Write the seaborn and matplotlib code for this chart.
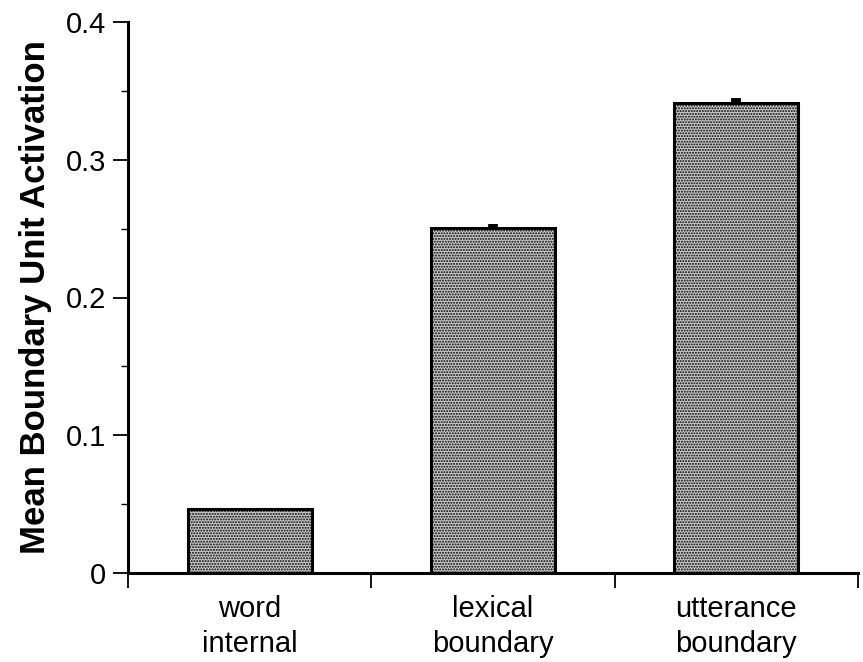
import matplotlib
matplotlib.use("Agg")
import matplotlib.pyplot as plt
import seaborn as sns
import pandas as pd
import numpy as np

categories = ["word\ninternal", "lexical\nboundary", "utterance\nboundary"]
values = [0.0465, 0.2505, 0.341]
errors = [0.0005, 0.003, 0.004]

sns.set_theme(style="ticks")
plt.rcParams['font.family'] = ['Liberation Sans', 'DejaVu Sans']
plt.rcParams['hatch.color'] = '#4a4a4a'
plt.rcParams['hatch.linewidth'] = 1.0
plt.rcParams['text.color'] = 'black'
plt.rcParams['xtick.color'] = 'black'
plt.rcParams['ytick.color'] = 'black'
plt.rcParams['axes.labelcolor'] = 'black'

df = pd.DataFrame({"cat": categories, "val": values})

fig = plt.figure(figsize=(8.63, 6.62), dpi=100)
ax = fig.add_axes([128/863, 1-573/662, (858-128)/863, (573-22)/662])

sns.barplot(data=df, x="cat", y="val", order=categories, color="#c8c8c8",
            width=0.51, edgecolor="black", linewidth=2.2, errorbar=None,
            ax=ax, zorder=2)
for p in ax.patches:
    p.set_hatch("......")
    p.set_facecolor("#cccccc")

xs = np.arange(len(categories))
ax.errorbar(xs, values, yerr=[np.zeros(len(errors)), errors], fmt="none",
            ecolor="black", elinewidth=7, capsize=0, zorder=1)

ax.set_xlim(-0.5, 2.5)
ax.set_ylim(0, 0.4)
ax.set_yticks([0, 0.1, 0.2, 0.3, 0.4])
ax.set_yticklabels(["0", "0.1", "0.2", "0.3", "0.4"])
ax.set_yticks(np.arange(0.05, 0.4, 0.1), minor=True)

ax.set_xticks([-0.5, 0.5, 1.5, 2.5])
ax.set_xticklabels([])
ax.set_xticks(xs, minor=True)
ax.set_xticklabels(categories, minor=True, fontsize=21, linespacing=1.3)
ax.tick_params(axis="x", which="minor", length=0, pad=16)
ax.tick_params(axis="x", which="major", length=11, width=1.3, direction="out")
ax.tick_params(axis="y", which="major", length=11, width=1.3, labelsize=21, pad=5)
ax.tick_params(axis="y", which="minor", length=5, width=1.0)

for s in ["top", "right"]:
    ax.spines[s].set_visible(False)
for s in ["left", "bottom"]:
    ax.spines[s].set_linewidth(2.2)
    ax.spines[s].set_color("black")

ax.set_xlabel("")
ax.set_ylabel("Mean Boundary Unit Activation", fontsize=25, fontweight="bold", labelpad=10)

fig.savefig("out.png", dpi=100)
